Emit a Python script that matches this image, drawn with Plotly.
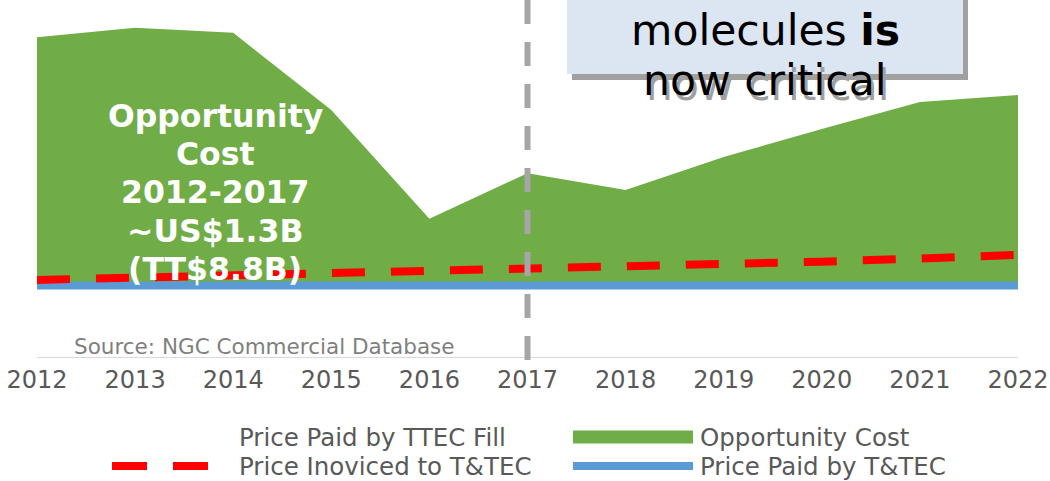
import plotly.graph_objects as go

# Data
years = [2012, 2013, 2014, 2015, 2016, 2017, 2018, 2019, 2020, 2021, 2022]
price_paid_fill = [2.0, 2.0, 2.0, 2.0, 2.0, 2.0, 2.0, 2.0, 2.0, 2.0, 2.0]
opportunity_cost = [6.96, 7.22, 7.08, 4.92, 1.87, 3.15, 2.68, 3.60, 4.39, 5.14, 5.34]
price_invoiced = [2.16, 2.22, 2.28, 2.35, 2.42, 2.48, 2.53, 2.60, 2.67, 2.76, 2.86]
price_paid = [2.0, 2.0, 2.0, 2.0, 2.0, 2.0, 2.0, 2.0, 2.0, 2.0, 2.0]
tick_labels = [str(y) for y in years]

GREEN = "#70ad47"
BLUE = "#5b9bd5"
RED = "#ff0000"
GREY = "#a6a6a6"
TEXT = "#595959"
FONT = "DejaVu Sans"

W, H = 1050, 481
L, R, T, B = 37, 32, 0, 124
PW, PH = W - L - R, H - T - B


def px(x):
    return (x - L) / PW


def py(y):
    return (H - B - y) / PH


fig = go.Figure()

fig.add_trace(go.Scatter(
    x=years, y=price_paid_fill, name="Price Paid by TTEC Fill",
    stackgroup="one", mode="lines", line=dict(width=0),
    fillcolor="rgba(0,0,0,0)", showlegend=False, hoverinfo="skip",
))
fig.add_trace(go.Scatter(
    x=years, y=opportunity_cost, name="Opportunity Cost",
    stackgroup="one", mode="lines", line=dict(width=0, color=GREEN),
    fillcolor=GREEN, showlegend=False,
))
fig.add_trace(go.Scatter(
    x=years, y=price_paid, name="Price Paid by T&TEC", mode="lines",
    line=dict(color=BLUE, width=8), showlegend=False,
))
fig.add_trace(go.Scatter(
    x=years, y=price_invoiced, name="Price Inoviced to T&TEC", mode="lines",
    line=dict(color=RED, width=8, dash="33px,26px"), showlegend=False,
))

shapes = [
    # 2017 divider
    dict(type="line", xref="x", yref="paper", x0=2017, x1=2017,
         y0=py(360), y1=py(-10), line=dict(color=GREY, width=6, dash="24px,18px"),
         layer="above"),
    # callout box with shadow
    dict(type="rect", xref="paper", yref="paper", x0=px(572), x1=px(968),
         y0=py(80), y1=py(-20), fillcolor="#a0a0a0", line=dict(width=0), layer="above"),
    dict(type="rect", xref="paper", yref="paper", x0=px(567), x1=px(963),
         y0=py(74), y1=py(-20), fillcolor="#dce6f2", line=dict(width=0), layer="above"),
    # legend symbols
    dict(type="line", xref="paper", yref="paper", x0=px(573), x1=px(693),
         y0=py(437), y1=py(437), line=dict(color=GREEN, width=13)),
    dict(type="line", xref="paper", yref="paper", x0=px(573), x1=px(693),
         y0=py(466), y1=py(466), line=dict(color=BLUE, width=8)),
    dict(type="line", xref="paper", yref="paper", x0=px(112), x1=px(233),
         y0=py(466), y1=py(466), line=dict(color=RED, width=8, dash="35px,26px")),
]


def note(text, x, y, size, color, xanchor="center"):
    return dict(text=text, xref="paper", yref="paper", x=px(x), y=py(y),
                showarrow=False, xanchor=xanchor, yanchor="middle",
                font=dict(size=size, color=color, family=FONT))


annotations = [
    note("Source: NGC Commercial Database", 72, 346, 21.5, "#7f7f7f", "left"),
    note("molecules <b>is</b>", 765, 30, 42.5, "black"),
    note("now critical", 768, 85, 42.5, "#a0a0a0"),
    note("now critical", 765, 81, 42.5, "black"),
]

callout_lines = ["Opportunity", "Cost", "2012-2017", "~US$1.3B", "(TT$8.8B)"]
for line, ly in zip(callout_lines, [116, 154, 192, 231, 269]):
    a = note(line, 215, ly, 31.5, "white")
    a["font"]["weight"] = "bold"
    annotations.append(a)

legend_items = [
    ("Price Paid by TTEC Fill", 237, 437),
    ("Opportunity Cost", 698, 437),
    ("Price Inoviced to T&TEC", 237, 466),
    ("Price Paid by T&TEC", 698, 466),
]
for label, lx, ly in legend_items:
    annotations.append(note(label, lx, ly, 24.5, TEXT, "left"))

fig.update_layout(
    width=W, height=H,
    margin=dict(l=L, r=R, t=T, b=B),
    paper_bgcolor="white", plot_bgcolor="white",
    font=dict(family=FONT, color=TEXT),
    showlegend=False,
    xaxis=dict(range=[2012, 2022], tickvals=years, ticktext=tick_labels,
               showgrid=False, zeroline=False, showline=True,
               linecolor="#d9d9d9", linewidth=1, ticks="",
               tickfont=dict(size=24, color=TEXT, family=FONT),
               ticklabelstandoff=1),
    yaxis=dict(range=[0, 10], visible=False, showgrid=False),
    shapes=shapes,
    annotations=annotations,
)

fig.write_html("out.html", config={"displayModeBar": False},
               post_script="document.body.style.margin='0';")
